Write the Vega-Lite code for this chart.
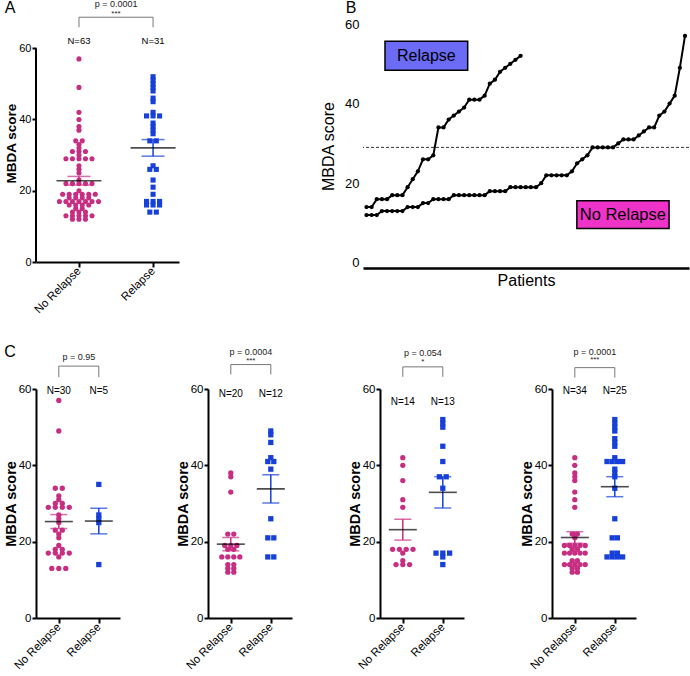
{
"$schema": "https://vega.github.io/schema/vega-lite/v6.json",
"padding": {"left": 3, "top": 0, "right": 2, "bottom": 0},
"config": {"font": "Liberation Sans", "view": {"stroke": null}, "axis": {"grid": false, "labelColor": "black", "titleColor": "black", "domainColor": "black", "tickColor": "black"}},
"datasets": {
"tests": [
{"panel": "A", "p": "p = 0.0001", "stars": "***"},
{"panel": "C1", "p": "p = 0.95", "stars": ""},
{"panel": "C2", "p": "p = 0.0004", "stars": "***"},
{"panel": "C3", "p": "p = 0.054", "stars": "*"},
{"panel": "C4", "p": "p = 0.0001", "stars": "***"}
],
"scores": [
{"panel":"A","group":"No Relapse","score":57},{"panel":"A","group":"No Relapse","score":49},{"panel":"A","group":"No Relapse","score":42},{"panel":"A","group":"No Relapse","score":40},{"panel":"A","group":"No Relapse","score":38},{"panel":"A","group":"No Relapse","score":37},{"panel":"A","group":"No Relapse","score":34},{"panel":"A","group":"No Relapse","score":34},{"panel":"A","group":"No Relapse","score":33},{"panel":"A","group":"No Relapse","score":32},{"panel":"A","group":"No Relapse","score":31},{"panel":"A","group":"No Relapse","score":31},{"panel":"A","group":"No Relapse","score":31},{"panel":"A","group":"No Relapse","score":30},{"panel":"A","group":"No Relapse","score":29},{"panel":"A","group":"No Relapse","score":29},{"panel":"A","group":"No Relapse","score":29},{"panel":"A","group":"No Relapse","score":29},{"panel":"A","group":"No Relapse","score":29},{"panel":"A","group":"No Relapse","score":27},{"panel":"A","group":"No Relapse","score":26},{"panel":"A","group":"No Relapse","score":25},{"panel":"A","group":"No Relapse","score":23},{"panel":"A","group":"No Relapse","score":22},{"panel":"A","group":"No Relapse","score":22},{"panel":"A","group":"No Relapse","score":22},{"panel":"A","group":"No Relapse","score":22},{"panel":"A","group":"No Relapse","score":22},{"panel":"A","group":"No Relapse","score":20},{"panel":"A","group":"No Relapse","score":19},{"panel":"A","group":"No Relapse","score":19},{"panel":"A","group":"No Relapse","score":19},{"panel":"A","group":"No Relapse","score":19},{"panel":"A","group":"No Relapse","score":19},{"panel":"A","group":"No Relapse","score":19},{"panel":"A","group":"No Relapse","score":18},{"panel":"A","group":"No Relapse","score":18},{"panel":"A","group":"No Relapse","score":18},{"panel":"A","group":"No Relapse","score":18},{"panel":"A","group":"No Relapse","score":17},{"panel":"A","group":"No Relapse","score":17},{"panel":"A","group":"No Relapse","score":17},{"panel":"A","group":"No Relapse","score":17},{"panel":"A","group":"No Relapse","score":17},{"panel":"A","group":"No Relapse","score":17},{"panel":"A","group":"No Relapse","score":17},{"panel":"A","group":"No Relapse","score":16},{"panel":"A","group":"No Relapse","score":16},{"panel":"A","group":"No Relapse","score":16},{"panel":"A","group":"No Relapse","score":16},{"panel":"A","group":"No Relapse","score":15},{"panel":"A","group":"No Relapse","score":15},{"panel":"A","group":"No Relapse","score":14},{"panel":"A","group":"No Relapse","score":14},{"panel":"A","group":"No Relapse","score":14},{"panel":"A","group":"No Relapse","score":13},{"panel":"A","group":"No Relapse","score":13},{"panel":"A","group":"No Relapse","score":13},{"panel":"A","group":"No Relapse","score":13},{"panel":"A","group":"No Relapse","score":13},{"panel":"A","group":"No Relapse","score":12},{"panel":"A","group":"No Relapse","score":12},{"panel":"A","group":"No Relapse","score":12},
{"panel":"A","group":"Relapse","score":52},{"panel":"A","group":"Relapse","score":51},{"panel":"A","group":"Relapse","score":50},{"panel":"A","group":"Relapse","score":49},{"panel":"A","group":"Relapse","score":48},{"panel":"A","group":"Relapse","score":46},{"panel":"A","group":"Relapse","score":45},{"panel":"A","group":"Relapse","score":42},{"panel":"A","group":"Relapse","score":41},{"panel":"A","group":"Relapse","score":41},{"panel":"A","group":"Relapse","score":41},{"panel":"A","group":"Relapse","score":39},{"panel":"A","group":"Relapse","score":38},{"panel":"A","group":"Relapse","score":37},{"panel":"A","group":"Relapse","score":36},{"panel":"A","group":"Relapse","score":34},{"panel":"A","group":"Relapse","score":34},{"panel":"A","group":"Relapse","score":27},{"panel":"A","group":"Relapse","score":26},{"panel":"A","group":"Relapse","score":26},{"panel":"A","group":"Relapse","score":23},{"panel":"A","group":"Relapse","score":21},{"panel":"A","group":"Relapse","score":19},{"panel":"A","group":"Relapse","score":17},{"panel":"A","group":"Relapse","score":17},{"panel":"A","group":"Relapse","score":17},{"panel":"A","group":"Relapse","score":16},{"panel":"A","group":"Relapse","score":16},{"panel":"A","group":"Relapse","score":16},{"panel":"A","group":"Relapse","score":14},{"panel":"A","group":"Relapse","score":14},
{"panel":"C1","group":"No Relapse","score":57},{"panel":"C1","group":"No Relapse","score":49},{"panel":"C1","group":"No Relapse","score":34},{"panel":"C1","group":"No Relapse","score":34},{"panel":"C1","group":"No Relapse","score":32},{"panel":"C1","group":"No Relapse","score":31},{"panel":"C1","group":"No Relapse","score":30},{"panel":"C1","group":"No Relapse","score":30},{"panel":"C1","group":"No Relapse","score":29},{"panel":"C1","group":"No Relapse","score":29},{"panel":"C1","group":"No Relapse","score":29},{"panel":"C1","group":"No Relapse","score":29},{"panel":"C1","group":"No Relapse","score":27},{"panel":"C1","group":"No Relapse","score":26},{"panel":"C1","group":"No Relapse","score":25},{"panel":"C1","group":"No Relapse","score":23},{"panel":"C1","group":"No Relapse","score":23},{"panel":"C1","group":"No Relapse","score":22},{"panel":"C1","group":"No Relapse","score":21},{"panel":"C1","group":"No Relapse","score":19},{"panel":"C1","group":"No Relapse","score":18},{"panel":"C1","group":"No Relapse","score":18},{"panel":"C1","group":"No Relapse","score":17},{"panel":"C1","group":"No Relapse","score":17},{"panel":"C1","group":"No Relapse","score":17},{"panel":"C1","group":"No Relapse","score":17},{"panel":"C1","group":"No Relapse","score":16},{"panel":"C1","group":"No Relapse","score":13},{"panel":"C1","group":"No Relapse","score":13},{"panel":"C1","group":"No Relapse","score":13},
{"panel":"C1","group":"Relapse","score":35},{"panel":"C1","group":"Relapse","score":27},{"panel":"C1","group":"Relapse","score":26},{"panel":"C1","group":"Relapse","score":25},{"panel":"C1","group":"Relapse","score":14},
{"panel":"C2","group":"No Relapse","score":38},{"panel":"C2","group":"No Relapse","score":37},{"panel":"C2","group":"No Relapse","score":33},{"panel":"C2","group":"No Relapse","score":22},{"panel":"C2","group":"No Relapse","score":22},{"panel":"C2","group":"No Relapse","score":19},{"panel":"C2","group":"No Relapse","score":19},{"panel":"C2","group":"No Relapse","score":19},{"panel":"C2","group":"No Relapse","score":18},{"panel":"C2","group":"No Relapse","score":18},{"panel":"C2","group":"No Relapse","score":16},{"panel":"C2","group":"No Relapse","score":16},{"panel":"C2","group":"No Relapse","score":16},{"panel":"C2","group":"No Relapse","score":16},{"panel":"C2","group":"No Relapse","score":14},{"panel":"C2","group":"No Relapse","score":14},{"panel":"C2","group":"No Relapse","score":13},{"panel":"C2","group":"No Relapse","score":13},{"panel":"C2","group":"No Relapse","score":12},{"panel":"C2","group":"No Relapse","score":12},
{"panel":"C2","group":"Relapse","score":49},{"panel":"C2","group":"Relapse","score":48},{"panel":"C2","group":"Relapse","score":46},{"panel":"C2","group":"Relapse","score":42},{"panel":"C2","group":"Relapse","score":41},{"panel":"C2","group":"Relapse","score":41},{"panel":"C2","group":"Relapse","score":39},{"panel":"C2","group":"Relapse","score":26},{"panel":"C2","group":"Relapse","score":21},{"panel":"C2","group":"Relapse","score":21},{"panel":"C2","group":"Relapse","score":16},{"panel":"C2","group":"Relapse","score":16},
{"panel":"C3","group":"No Relapse","score":42},{"panel":"C3","group":"No Relapse","score":40},{"panel":"C3","group":"No Relapse","score":36},{"panel":"C3","group":"No Relapse","score":31},{"panel":"C3","group":"No Relapse","score":29},{"panel":"C3","group":"No Relapse","score":18},{"panel":"C3","group":"No Relapse","score":18},{"panel":"C3","group":"No Relapse","score":18},{"panel":"C3","group":"No Relapse","score":18},{"panel":"C3","group":"No Relapse","score":17},{"panel":"C3","group":"No Relapse","score":15},{"panel":"C3","group":"No Relapse","score":14},{"panel":"C3","group":"No Relapse","score":14},{"panel":"C3","group":"No Relapse","score":14},
{"panel":"C3","group":"Relapse","score":52},{"panel":"C3","group":"Relapse","score":51},{"panel":"C3","group":"Relapse","score":50},{"panel":"C3","group":"Relapse","score":45},{"panel":"C3","group":"Relapse","score":41},{"panel":"C3","group":"Relapse","score":37},{"panel":"C3","group":"Relapse","score":37},{"panel":"C3","group":"Relapse","score":34},{"panel":"C3","group":"Relapse","score":17},{"panel":"C3","group":"Relapse","score":17},{"panel":"C3","group":"Relapse","score":17},{"panel":"C3","group":"Relapse","score":16},{"panel":"C3","group":"Relapse","score":14},
{"panel":"C4","group":"No Relapse","score":42},{"panel":"C4","group":"No Relapse","score":40},{"panel":"C4","group":"No Relapse","score":38},{"panel":"C4","group":"No Relapse","score":37},{"panel":"C4","group":"No Relapse","score":36},{"panel":"C4","group":"No Relapse","score":33},{"panel":"C4","group":"No Relapse","score":31},{"panel":"C4","group":"No Relapse","score":29},{"panel":"C4","group":"No Relapse","score":22},{"panel":"C4","group":"No Relapse","score":22},{"panel":"C4","group":"No Relapse","score":21},{"panel":"C4","group":"No Relapse","score":19},{"panel":"C4","group":"No Relapse","score":19},{"panel":"C4","group":"No Relapse","score":19},{"panel":"C4","group":"No Relapse","score":19},{"panel":"C4","group":"No Relapse","score":19},{"panel":"C4","group":"No Relapse","score":18},{"panel":"C4","group":"No Relapse","score":18},{"panel":"C4","group":"No Relapse","score":17},{"panel":"C4","group":"No Relapse","score":17},{"panel":"C4","group":"No Relapse","score":17},{"panel":"C4","group":"No Relapse","score":17},{"panel":"C4","group":"No Relapse","score":17},{"panel":"C4","group":"No Relapse","score":15},{"panel":"C4","group":"No Relapse","score":15},{"panel":"C4","group":"No Relapse","score":14},{"panel":"C4","group":"No Relapse","score":14},{"panel":"C4","group":"No Relapse","score":14},{"panel":"C4","group":"No Relapse","score":14},{"panel":"C4","group":"No Relapse","score":14},{"panel":"C4","group":"No Relapse","score":13},{"panel":"C4","group":"No Relapse","score":13},{"panel":"C4","group":"No Relapse","score":12},{"panel":"C4","group":"No Relapse","score":12},
{"panel":"C4","group":"Relapse","score":52},{"panel":"C4","group":"Relapse","score":51},{"panel":"C4","group":"Relapse","score":50},{"panel":"C4","group":"Relapse","score":49},{"panel":"C4","group":"Relapse","score":47},{"panel":"C4","group":"Relapse","score":46},{"panel":"C4","group":"Relapse","score":45},{"panel":"C4","group":"Relapse","score":42},{"panel":"C4","group":"Relapse","score":41},{"panel":"C4","group":"Relapse","score":41},{"panel":"C4","group":"Relapse","score":41},{"panel":"C4","group":"Relapse","score":41},{"panel":"C4","group":"Relapse","score":39},{"panel":"C4","group":"Relapse","score":38},{"panel":"C4","group":"Relapse","score":37},{"panel":"C4","group":"Relapse","score":34},{"panel":"C4","group":"Relapse","score":26},{"panel":"C4","group":"Relapse","score":21},{"panel":"C4","group":"Relapse","score":21},{"panel":"C4","group":"Relapse","score":17},{"panel":"C4","group":"Relapse","score":17},{"panel":"C4","group":"Relapse","score":16},{"panel":"C4","group":"Relapse","score":16},{"panel":"C4","group":"Relapse","score":16},{"panel":"C4","group":"Relapse","score":16}
]
},
"spacing": 27,
"vconcat": [
{"hconcat": [
{
"width": 143, "height": 238,
"data": {"name": "scores"},
"transform": [
{"filter": "datum.panel === 'A'"},
{"calculate": "datum.group === 'Relapse' ? 1 : 0", "as": "gi"},
{"window": [{"op": "row_number", "as": "k"}], "groupby": ["group", "score"]},
{"joinaggregate": [{"op": "count", "as": "n"}], "groupby": ["group", "score"]},
{"calculate": "datum.gi + 0.088 * (datum.k - (datum.n + 1) / 2)", "as": "xpos"}
],
"layer": [
{"mark": {"type": "point", "filled": true, "size": 26, "opacity": 1},
"encoding": {
"x": {"field": "xpos", "type": "quantitative", "scale": {"domain": [-0.58, 1.35]}, "axis": {"values": [0, 1], "labelExpr": "datum.value === 0 ? 'No Relapse' : 'Relapse'", "labelAngle": -45, "labelAlign": "right", "labelBaseline": "middle", "labelFontSize": 11.5, "title": null, "domainWidth": 2, "tickWidth": 2, "tickSize": 5, "labelPadding": 2}},
"y": {"field": "score", "type": "quantitative", "scale": {"domain": [0, 66.8]}, "axis": {"values": [0, 20, 40, 60], "title": "MBDA score", "titleFontSize": 13.5, "titleFontWeight": "bold", "labelFontSize": 11, "domain": false, "tickWidth": 2, "tickSize": 4, "labelPadding": 1, "titlePadding": 0}},
"color": {"field": "group", "type": "nominal", "scale": {"domain": ["No Relapse", "Relapse"], "range": ["#c72e82", "#1640d8"]}, "legend": null},
"shape": {"field": "group", "type": "nominal", "scale": {"domain": ["No Relapse", "Relapse"], "range": ["circle", "square"]}, "legend": null}
}},
{"data": {"values": [{}]}, "mark": {"type": "rule", "color": "black", "strokeWidth": 2},
"encoding": {"x": {"datum": -0.58, "scale": {"domain": [-0.58, 1.35]}}, "y": {"datum": 0, "scale": {"domain": [0, 66.8]}}, "y2": {"datum": 60}}},
{"data": {"values": [{}]}, "mark": {"type": "text", "text": "A", "fontSize": 16, "color": "black"},
"encoding": {"x": {"datum": -0.93, "scale": {"domain": [-0.58, 1.35]}}, "y": {"datum": 71.2, "scale": {"domain": [0, 66.8]}}}},
{"transform": [
{"aggregate": [{"op": "mean", "field": "score", "as": "m"}, {"op": "stderr", "field": "score", "as": "se"}], "groupby": ["group", "gi"]},
{"calculate": "datum.m - datum.se", "as": "lo"},
{"calculate": "datum.m + datum.se", "as": "hi"}
],
"encoding": {
"x": {"field": "gi", "type": "quantitative", "scale": {"domain": [-0.58, 1.35]}},
"color": {"field": "group", "type": "nominal", "scale": {"domain": ["No Relapse", "Relapse"], "range": ["#c72e82", "#1640d8"]}, "legend": null}
},
"layer": [
{"mark": {"type": "rule", "strokeWidth": 1.5}, "encoding": {"y": {"field": "lo", "type": "quantitative", "scale": {"domain": [0, 66.8]}}, "y2": {"field": "hi"}}},
{"mark": {"type": "tick", "orient": "horizontal", "size": 23, "thickness": 1.5}, "encoding": {"y": {"field": "lo", "type": "quantitative", "scale": {"domain": [0, 66.8]}}}},
{"mark": {"type": "tick", "orient": "horizontal", "size": 23, "thickness": 1.5}, "encoding": {"y": {"field": "hi", "type": "quantitative", "scale": {"domain": [0, 66.8]}}}},
{"mark": {"type": "tick", "orient": "horizontal", "size": 45, "thickness": 1.6}, "encoding": {"y": {"field": "m", "type": "quantitative", "scale": {"domain": [0, 66.8]}}, "color": {"value": "black"}}}
]},
{"transform": [
{"aggregate": [{"op": "count", "as": "n"}], "groupby": ["group", "gi"]},
{"calculate": "'N=' + datum.n", "as": "lab"}
],
"mark": {"type": "text", "fontSize": 9.5, "color": "black"},
"encoding": {
"x": {"field": "gi", "type": "quantitative", "scale": {"domain": [-0.58, 1.35]}},
"y": {"datum": 62, "scale": {"domain": [0, 66.8]}},
"text": {"field": "lab"}
}},
{"data": {"name": "tests"},
"transform": [{"filter": "datum.panel === 'A'"}],
"layer": [
{"mark": {"type": "rule", "color": "#777", "strokeWidth": 1}, "encoding": {"x": {"datum": 0, "scale": {"domain": [-0.58, 1.35]}}, "x2": {"datum": 1}, "y": {"datum": 68.7, "scale": {"domain": [0, 66.8]}}}},
{"mark": {"type": "rule", "color": "#777", "strokeWidth": 1}, "encoding": {"x": {"datum": 0, "scale": {"domain": [-0.58, 1.35]}}, "y": {"datum": 65.9, "scale": {"domain": [0, 66.8]}}, "y2": {"datum": 68.7}}},
{"mark": {"type": "rule", "color": "#777", "strokeWidth": 1}, "encoding": {"x": {"datum": 1, "scale": {"domain": [-0.58, 1.35]}}, "y": {"datum": 65.9, "scale": {"domain": [0, 66.8]}}, "y2": {"datum": 68.7}}},
{"mark": {"type": "text", "fontSize": 9, "color": "#222"}, "encoding": {"x": {"datum": 0.5, "scale": {"domain": [-0.58, 1.35]}}, "y": {"datum": 72.3, "scale": {"domain": [0, 66.8]}}, "text": {"field": "p"}}},
{"mark": {"type": "text", "fontSize": 8, "color": "#222"}, "encoding": {"x": {"datum": 0.5, "scale": {"domain": [-0.58, 1.35]}}, "y": {"datum": 69.6, "scale": {"domain": [0, 66.8]}}, "text": {"field": "stars"}}}
]}
]
},
{
"width": 326, "height": 244,
"data": {"name": "scores"},
"transform": [
{"filter": "datum.panel === 'A'"},
{"window": [{"op": "row_number", "as": "rank"}], "sort": [{"field": "score", "order": "ascending"}], "groupby": ["group"]}
],
"layer": [
{"mark": {"type": "rule", "strokeDash": [3, 2], "strokeWidth": 0.8, "color": "black"}, "data": {"values": [{}]}, "encoding": {"y": {"datum": 29, "scale": {"domain": [-1.3, 60]}}}},
{"mark": {"type": "line", "color": "black", "strokeWidth": 2, "point": {"filled": true, "size": 18, "color": "black"}},
"encoding": {
"x": {"field": "rank", "type": "quantitative", "scale": {"domain": [0.32, 63.78]}, "axis": {"title": "Patients", "titleFontSize": 16, "titleFontWeight": "normal", "labels": false, "ticks": false, "domainWidth": 2.5, "titlePadding": 4}},
"y": {"field": "score", "type": "quantitative", "scale": {"domain": [-1.3, 60]}, "axis": {"values": [0, 20, 40, 60], "title": "MBDA score", "titleFontSize": 16, "titleFontWeight": "normal", "labelFontSize": 13, "domain": false, "ticks": false, "labelPadding": 4, "titlePadding": 8}},
"detail": {"field": "group", "type": "nominal"}
}},
{"data": {"values": [{}]}, "mark": {"type": "text", "text": "B", "fontSize": 16, "color": "black"},
"encoding": {"x": {"datum": -2.0, "scale": {"domain": [0.32, 63.78]}}, "y": {"datum": 64, "scale": {"domain": [-1.3, 60]}}}},
{"data": {"values": [{}]}, "mark": {"type": "rect", "fill": "#6b6bf5", "stroke": "black", "strokeWidth": 1.5},
"encoding": {"x": {"datum": 4.6, "scale": {"domain": [0.32, 63.78]}}, "x2": {"datum": 20.7}, "y": {"datum": 48.35, "scale": {"domain": [-1.3, 60]}}, "y2": {"datum": 55.65}}},
{"data": {"values": [{}]}, "mark": {"type": "text", "text": "Relapse", "fontSize": 16, "color": "black"},
"encoding": {"x": {"datum": 12.65, "scale": {"domain": [0.32, 63.78]}}, "y": {"datum": 52, "scale": {"domain": [-1.3, 60]}}}},
{"data": {"values": [{}]}, "mark": {"type": "rect", "fill": "#f033c8", "stroke": "black", "strokeWidth": 1.5},
"encoding": {"x": {"datum": 41.95, "scale": {"domain": [0.32, 63.78]}}, "x2": {"datum": 59.9}, "y": {"datum": 8.6, "scale": {"domain": [-1.3, 60]}}, "y2": {"datum": 15.6}}},
{"data": {"values": [{}]}, "mark": {"type": "text", "text": "No Relapse", "fontSize": 16.5, "color": "black"},
"encoding": {"x": {"datum": 50.9, "scale": {"domain": [0.32, 63.78]}}, "y": {"datum": 12.1, "scale": {"domain": [-1.3, 60]}}}}
]
}
], "spacing": 184, "bounds": "flush"},
{"hconcat": [
{
"width": 84, "height": 229,
"data": {"name": "scores"},
"transform": [
{"filter": "datum.panel === 'C1'"},
{"calculate": "datum.group === 'Relapse' ? 1 : 0", "as": "gi"},
{"window": [{"op": "row_number", "as": "k"}], "groupby": ["group", "score"]},
{"joinaggregate": [{"op": "count", "as": "n"}], "groupby": ["group", "score"]},
{"calculate": "datum.gi + 0.175 * (datum.k - (datum.n + 1) / 2)", "as": "xpos"}
],
"layer": [
{"mark": {"type": "point", "filled": true, "size": 28, "opacity": 1},
"encoding": {
"x": {"field": "xpos", "type": "quantitative", "scale": {"domain": [-0.57, 1.53]}, "axis": {"values": [0, 1], "labelExpr": "datum.value === 0 ? 'No Relapse' : 'Relapse'", "labelAngle": -45, "labelAlign": "right", "labelBaseline": "middle", "labelFontSize": 11.5, "title": null, "domainWidth": 2, "tickWidth": 2, "tickSize": 5, "labelPadding": 2}},
"y": {"field": "score", "type": "quantitative", "scale": {"domain": [0, 60]}, "axis": {"values": [0, 20, 40, 60], "title": "MBDA score", "titleFontSize": 14.5, "titleFontWeight": "bold", "labelFontSize": 11.5, "domainWidth": 2, "tickWidth": 2, "tickSize": 4, "labelPadding": 1, "titlePadding": 0}},
"color": {"field": "group", "type": "nominal", "scale": {"domain": ["No Relapse", "Relapse"], "range": ["#c72e82", "#1640d8"]}, "legend": null},
"shape": {"field": "group", "type": "nominal", "scale": {"domain": ["No Relapse", "Relapse"], "range": ["circle", "square"]}, "legend": null}
}},
{"data": {"values": [{}]}, "mark": {"type": "text", "text": "C", "fontSize": 16, "color": "black"},
"encoding": {"x": {"datum": -1.22, "scale": {"domain": [-0.57, 1.53]}}, "y": {"datum": 69.7, "scale": {"domain": [0, 60]}}}},
{"transform": [
{"aggregate": [{"op": "mean", "field": "score", "as": "m"}, {"op": "stderr", "field": "score", "as": "se"}], "groupby": ["group", "gi"]},
{"calculate": "datum.m - datum.se", "as": "lo"},
{"calculate": "datum.m + datum.se", "as": "hi"}
],
"encoding": {
"x": {"field": "gi", "type": "quantitative", "scale": {"domain": [-0.57, 1.53]}},
"color": {"field": "group", "type": "nominal", "scale": {"domain": ["No Relapse", "Relapse"], "range": ["#c72e82", "#1640d8"]}, "legend": null}
},
"layer": [
{"mark": {"type": "rule", "strokeWidth": 1.5}, "encoding": {"y": {"field": "lo", "type": "quantitative", "scale": {"domain": [0, 60]}}, "y2": {"field": "hi"}}},
{"mark": {"type": "tick", "orient": "horizontal", "size": 17, "thickness": 1.5}, "encoding": {"y": {"field": "lo", "type": "quantitative", "scale": {"domain": [0, 60]}}}},
{"mark": {"type": "tick", "orient": "horizontal", "size": 17, "thickness": 1.5}, "encoding": {"y": {"field": "hi", "type": "quantitative", "scale": {"domain": [0, 60]}}}},
{"mark": {"type": "tick", "orient": "horizontal", "size": 28, "thickness": 1.6}, "encoding": {"y": {"field": "m", "type": "quantitative", "scale": {"domain": [0, 60]}}, "color": {"value": "black"}}}
]},
{"transform": [
{"aggregate": [{"op": "count", "as": "n"}], "groupby": ["group", "gi"]},
{"calculate": "'N=' + datum.n", "as": "lab"}
],
"mark": {"type": "text", "fontSize": 10, "color": "black"},
"encoding": {
"x": {"field": "gi", "type": "quantitative", "scale": {"domain": [-0.57, 1.53]}},
"y": {"datum": 59.5, "scale": {"domain": [0, 60]}},
"text": {"field": "lab"}
}},
{"data": {"name": "tests"},
"transform": [{"filter": "datum.panel === 'C1'"}],
"layer": [
{"mark": {"type": "rule", "color": "#777", "strokeWidth": 1}, "encoding": {"x": {"datum": 0, "scale": {"domain": [-0.57, 1.53]}}, "x2": {"datum": 1}, "y": {"datum": 66, "scale": {"domain": [0, 60]}}}},
{"mark": {"type": "rule", "color": "#777", "strokeWidth": 1}, "encoding": {"x": {"datum": 0, "scale": {"domain": [-0.57, 1.53]}}, "y": {"datum": 63.1, "scale": {"domain": [0, 60]}}, "y2": {"datum": 66}}},
{"mark": {"type": "rule", "color": "#777", "strokeWidth": 1}, "encoding": {"x": {"datum": 1, "scale": {"domain": [-0.57, 1.53]}}, "y": {"datum": 63.1, "scale": {"domain": [0, 60]}}, "y2": {"datum": 66}}},
{"mark": {"type": "text", "fontSize": 9, "color": "#222"}, "encoding": {"x": {"datum": 0.5, "scale": {"domain": [-0.57, 1.53]}}, "y": {"datum": 68.5, "scale": {"domain": [0, 60]}}, "text": {"field": "p"}}},
{"mark": {"type": "text", "fontSize": 8, "color": "#222"}, "encoding": {"x": {"datum": 0.5, "scale": {"domain": [-0.57, 1.53]}}, "y": {"datum": 67, "scale": {"domain": [0, 60]}}, "text": {"field": "stars"}}}
]}
]
},
{
"width": 84, "height": 229,
"data": {"name": "scores"},
"transform": [
{"filter": "datum.panel === 'C2'"},
{"calculate": "datum.group === 'Relapse' ? 1 : 0", "as": "gi"},
{"window": [{"op": "row_number", "as": "k"}], "groupby": ["group", "score"]},
{"joinaggregate": [{"op": "count", "as": "n"}], "groupby": ["group", "score"]},
{"calculate": "datum.gi + 0.15 * (datum.k - (datum.n + 1) / 2)", "as": "xpos"}
],
"layer": [
{"mark": {"type": "point", "filled": true, "size": 28, "opacity": 1},
"encoding": {
"x": {"field": "xpos", "type": "quantitative", "scale": {"domain": [-0.57, 1.53]}, "axis": {"values": [0, 1], "labelExpr": "datum.value === 0 ? 'No Relapse' : 'Relapse'", "labelAngle": -45, "labelAlign": "right", "labelBaseline": "middle", "labelFontSize": 11.5, "title": null, "domainWidth": 2, "tickWidth": 2, "tickSize": 5, "labelPadding": 2}},
"y": {"field": "score", "type": "quantitative", "scale": {"domain": [0, 60]}, "axis": {"values": [0, 20, 40, 60], "title": "MBDA score", "titleFontSize": 14.5, "titleFontWeight": "bold", "labelFontSize": 11.5, "domainWidth": 2, "tickWidth": 2, "tickSize": 4, "labelPadding": 1, "titlePadding": 0}},
"color": {"field": "group", "type": "nominal", "scale": {"domain": ["No Relapse", "Relapse"], "range": ["#c72e82", "#1640d8"]}, "legend": null},
"shape": {"field": "group", "type": "nominal", "scale": {"domain": ["No Relapse", "Relapse"], "range": ["circle", "square"]}, "legend": null}
}},
{"transform": [
{"aggregate": [{"op": "mean", "field": "score", "as": "m"}, {"op": "stderr", "field": "score", "as": "se"}], "groupby": ["group", "gi"]},
{"calculate": "datum.m - datum.se", "as": "lo"},
{"calculate": "datum.m + datum.se", "as": "hi"}
],
"encoding": {
"x": {"field": "gi", "type": "quantitative", "scale": {"domain": [-0.57, 1.53]}},
"color": {"field": "group", "type": "nominal", "scale": {"domain": ["No Relapse", "Relapse"], "range": ["#c72e82", "#1640d8"]}, "legend": null}
},
"layer": [
{"mark": {"type": "rule", "strokeWidth": 1.5}, "encoding": {"y": {"field": "lo", "type": "quantitative", "scale": {"domain": [0, 60]}}, "y2": {"field": "hi"}}},
{"mark": {"type": "tick", "orient": "horizontal", "size": 17, "thickness": 1.5}, "encoding": {"y": {"field": "lo", "type": "quantitative", "scale": {"domain": [0, 60]}}}},
{"mark": {"type": "tick", "orient": "horizontal", "size": 17, "thickness": 1.5}, "encoding": {"y": {"field": "hi", "type": "quantitative", "scale": {"domain": [0, 60]}}}},
{"mark": {"type": "tick", "orient": "horizontal", "size": 28, "thickness": 1.6}, "encoding": {"y": {"field": "m", "type": "quantitative", "scale": {"domain": [0, 60]}}, "color": {"value": "black"}}}
]},
{"transform": [
{"aggregate": [{"op": "count", "as": "n"}], "groupby": ["group", "gi"]},
{"calculate": "'N=' + datum.n", "as": "lab"}
],
"mark": {"type": "text", "fontSize": 10, "color": "black"},
"encoding": {
"x": {"field": "gi", "type": "quantitative", "scale": {"domain": [-0.57, 1.53]}},
"y": {"datum": 58.7, "scale": {"domain": [0, 60]}},
"text": {"field": "lab"}
}},
{"data": {"name": "tests"},
"transform": [{"filter": "datum.panel === 'C2'"}],
"layer": [
{"mark": {"type": "rule", "color": "#777", "strokeWidth": 1}, "encoding": {"x": {"datum": 0, "scale": {"domain": [-0.57, 1.53]}}, "x2": {"datum": 1}, "y": {"datum": 66.4, "scale": {"domain": [0, 60]}}}},
{"mark": {"type": "rule", "color": "#777", "strokeWidth": 1}, "encoding": {"x": {"datum": 0, "scale": {"domain": [-0.57, 1.53]}}, "y": {"datum": 63.8, "scale": {"domain": [0, 60]}}, "y2": {"datum": 66.4}}},
{"mark": {"type": "rule", "color": "#777", "strokeWidth": 1}, "encoding": {"x": {"datum": 1, "scale": {"domain": [-0.57, 1.53]}}, "y": {"datum": 63.8, "scale": {"domain": [0, 60]}}, "y2": {"datum": 66.4}}},
{"mark": {"type": "text", "fontSize": 9, "color": "#222"}, "encoding": {"x": {"datum": 0.5, "scale": {"domain": [-0.57, 1.53]}}, "y": {"datum": 69.6, "scale": {"domain": [0, 60]}}, "text": {"field": "p"}}},
{"mark": {"type": "text", "fontSize": 8, "color": "#222"}, "encoding": {"x": {"datum": 0.5, "scale": {"domain": [-0.57, 1.53]}}, "y": {"datum": 67.3, "scale": {"domain": [0, 60]}}, "text": {"field": "stars"}}}
]}
]
},
{
"width": 84, "height": 229,
"data": {"name": "scores"},
"transform": [
{"filter": "datum.panel === 'C3'"},
{"calculate": "datum.group === 'Relapse' ? 1 : 0", "as": "gi"},
{"window": [{"op": "row_number", "as": "k"}], "groupby": ["group", "score"]},
{"joinaggregate": [{"op": "count", "as": "n"}], "groupby": ["group", "score"]},
{"calculate": "datum.gi + 0.17 * (datum.k - (datum.n + 1) / 2)", "as": "xpos"}
],
"layer": [
{"mark": {"type": "point", "filled": true, "size": 28, "opacity": 1},
"encoding": {
"x": {"field": "xpos", "type": "quantitative", "scale": {"domain": [-0.57, 1.53]}, "axis": {"values": [0, 1], "labelExpr": "datum.value === 0 ? 'No Relapse' : 'Relapse'", "labelAngle": -45, "labelAlign": "right", "labelBaseline": "middle", "labelFontSize": 11.5, "title": null, "domainWidth": 2, "tickWidth": 2, "tickSize": 5, "labelPadding": 2}},
"y": {"field": "score", "type": "quantitative", "scale": {"domain": [0, 60]}, "axis": {"values": [0, 20, 40, 60], "title": "MBDA score", "titleFontSize": 14.5, "titleFontWeight": "bold", "labelFontSize": 11.5, "domainWidth": 2, "tickWidth": 2, "tickSize": 4, "labelPadding": 1, "titlePadding": 0}},
"color": {"field": "group", "type": "nominal", "scale": {"domain": ["No Relapse", "Relapse"], "range": ["#c72e82", "#1640d8"]}, "legend": null},
"shape": {"field": "group", "type": "nominal", "scale": {"domain": ["No Relapse", "Relapse"], "range": ["circle", "square"]}, "legend": null}
}},
{"transform": [
{"aggregate": [{"op": "mean", "field": "score", "as": "m"}, {"op": "stderr", "field": "score", "as": "se"}], "groupby": ["group", "gi"]},
{"calculate": "datum.m - datum.se", "as": "lo"},
{"calculate": "datum.m + datum.se", "as": "hi"}
],
"encoding": {
"x": {"field": "gi", "type": "quantitative", "scale": {"domain": [-0.57, 1.53]}},
"color": {"field": "group", "type": "nominal", "scale": {"domain": ["No Relapse", "Relapse"], "range": ["#c72e82", "#1640d8"]}, "legend": null}
},
"layer": [
{"mark": {"type": "rule", "strokeWidth": 1.5}, "encoding": {"y": {"field": "lo", "type": "quantitative", "scale": {"domain": [0, 60]}}, "y2": {"field": "hi"}}},
{"mark": {"type": "tick", "orient": "horizontal", "size": 17, "thickness": 1.5}, "encoding": {"y": {"field": "lo", "type": "quantitative", "scale": {"domain": [0, 60]}}}},
{"mark": {"type": "tick", "orient": "horizontal", "size": 17, "thickness": 1.5}, "encoding": {"y": {"field": "hi", "type": "quantitative", "scale": {"domain": [0, 60]}}}},
{"mark": {"type": "tick", "orient": "horizontal", "size": 28, "thickness": 1.6}, "encoding": {"y": {"field": "m", "type": "quantitative", "scale": {"domain": [0, 60]}}, "color": {"value": "black"}}}
]},
{"transform": [
{"aggregate": [{"op": "count", "as": "n"}], "groupby": ["group", "gi"]},
{"calculate": "'N=' + datum.n", "as": "lab"}
],
"mark": {"type": "text", "fontSize": 10, "color": "black"},
"encoding": {
"x": {"field": "gi", "type": "quantitative", "scale": {"domain": [-0.57, 1.53]}},
"y": {"datum": 56.6, "scale": {"domain": [0, 60]}},
"text": {"field": "lab"}
}},
{"data": {"name": "tests"},
"transform": [{"filter": "datum.panel === 'C3'"}],
"layer": [
{"mark": {"type": "rule", "color": "#777", "strokeWidth": 1}, "encoding": {"x": {"datum": 0, "scale": {"domain": [-0.57, 1.53]}}, "x2": {"datum": 1}, "y": {"datum": 65.8, "scale": {"domain": [0, 60]}}}},
{"mark": {"type": "rule", "color": "#777", "strokeWidth": 1}, "encoding": {"x": {"datum": 0, "scale": {"domain": [-0.57, 1.53]}}, "y": {"datum": 63.2, "scale": {"domain": [0, 60]}}, "y2": {"datum": 65.8}}},
{"mark": {"type": "rule", "color": "#777", "strokeWidth": 1}, "encoding": {"x": {"datum": 1, "scale": {"domain": [-0.57, 1.53]}}, "y": {"datum": 63.2, "scale": {"domain": [0, 60]}}, "y2": {"datum": 65.8}}},
{"mark": {"type": "text", "fontSize": 9, "color": "#222"}, "encoding": {"x": {"datum": 0.5, "scale": {"domain": [-0.57, 1.53]}}, "y": {"datum": 69.5, "scale": {"domain": [0, 60]}}, "text": {"field": "p"}}},
{"mark": {"type": "text", "fontSize": 8, "color": "#222"}, "encoding": {"x": {"datum": 0.5, "scale": {"domain": [-0.57, 1.53]}}, "y": {"datum": 67, "scale": {"domain": [0, 60]}}, "text": {"field": "stars"}}}
]}
]
},
{
"width": 84, "height": 229,
"data": {"name": "scores"},
"transform": [
{"filter": "datum.panel === 'C4'"},
{"calculate": "datum.group === 'Relapse' ? 1 : 0", "as": "gi"},
{"window": [{"op": "row_number", "as": "k"}], "groupby": ["group", "score"]},
{"joinaggregate": [{"op": "count", "as": "n"}], "groupby": ["group", "score"]},
{"calculate": "datum.gi + 0.13 * (datum.k - (datum.n + 1) / 2)", "as": "xpos"}
],
"layer": [
{"mark": {"type": "point", "filled": true, "size": 28, "opacity": 1},
"encoding": {
"x": {"field": "xpos", "type": "quantitative", "scale": {"domain": [-0.57, 1.53]}, "axis": {"values": [0, 1], "labelExpr": "datum.value === 0 ? 'No Relapse' : 'Relapse'", "labelAngle": -45, "labelAlign": "right", "labelBaseline": "middle", "labelFontSize": 11.5, "title": null, "domainWidth": 2, "tickWidth": 2, "tickSize": 5, "labelPadding": 2}},
"y": {"field": "score", "type": "quantitative", "scale": {"domain": [0, 60]}, "axis": {"values": [0, 20, 40, 60], "title": "MBDA score", "titleFontSize": 14.5, "titleFontWeight": "bold", "labelFontSize": 11.5, "domainWidth": 2, "tickWidth": 2, "tickSize": 4, "labelPadding": 1, "titlePadding": 0}},
"color": {"field": "group", "type": "nominal", "scale": {"domain": ["No Relapse", "Relapse"], "range": ["#c72e82", "#1640d8"]}, "legend": null},
"shape": {"field": "group", "type": "nominal", "scale": {"domain": ["No Relapse", "Relapse"], "range": ["circle", "square"]}, "legend": null}
}},
{"transform": [
{"aggregate": [{"op": "mean", "field": "score", "as": "m"}, {"op": "stderr", "field": "score", "as": "se"}], "groupby": ["group", "gi"]},
{"calculate": "datum.m - datum.se", "as": "lo"},
{"calculate": "datum.m + datum.se", "as": "hi"}
],
"encoding": {
"x": {"field": "gi", "type": "quantitative", "scale": {"domain": [-0.57, 1.53]}},
"color": {"field": "group", "type": "nominal", "scale": {"domain": ["No Relapse", "Relapse"], "range": ["#c72e82", "#1640d8"]}, "legend": null}
},
"layer": [
{"mark": {"type": "rule", "strokeWidth": 1.5}, "encoding": {"y": {"field": "lo", "type": "quantitative", "scale": {"domain": [0, 60]}}, "y2": {"field": "hi"}}},
{"mark": {"type": "tick", "orient": "horizontal", "size": 17, "thickness": 1.5}, "encoding": {"y": {"field": "lo", "type": "quantitative", "scale": {"domain": [0, 60]}}}},
{"mark": {"type": "tick", "orient": "horizontal", "size": 17, "thickness": 1.5}, "encoding": {"y": {"field": "hi", "type": "quantitative", "scale": {"domain": [0, 60]}}}},
{"mark": {"type": "tick", "orient": "horizontal", "size": 28, "thickness": 1.6}, "encoding": {"y": {"field": "m", "type": "quantitative", "scale": {"domain": [0, 60]}}, "color": {"value": "black"}}}
]},
{"transform": [
{"aggregate": [{"op": "count", "as": "n"}], "groupby": ["group", "gi"]},
{"calculate": "'N=' + datum.n", "as": "lab"}
],
"mark": {"type": "text", "fontSize": 10, "color": "black"},
"encoding": {
"x": {"field": "gi", "type": "quantitative", "scale": {"domain": [-0.57, 1.53]}},
"y": {"datum": 59.5, "scale": {"domain": [0, 60]}},
"text": {"field": "lab"}
}},
{"data": {"name": "tests"},
"transform": [{"filter": "datum.panel === 'C4'"}],
"layer": [
{"mark": {"type": "rule", "color": "#777", "strokeWidth": 1}, "encoding": {"x": {"datum": 0, "scale": {"domain": [-0.57, 1.53]}}, "x2": {"datum": 1}, "y": {"datum": 65.6, "scale": {"domain": [0, 60]}}}},
{"mark": {"type": "rule", "color": "#777", "strokeWidth": 1}, "encoding": {"x": {"datum": 0, "scale": {"domain": [-0.57, 1.53]}}, "y": {"datum": 63, "scale": {"domain": [0, 60]}}, "y2": {"datum": 65.6}}},
{"mark": {"type": "rule", "color": "#777", "strokeWidth": 1}, "encoding": {"x": {"datum": 1, "scale": {"domain": [-0.57, 1.53]}}, "y": {"datum": 63, "scale": {"domain": [0, 60]}}, "y2": {"datum": 65.6}}},
{"mark": {"type": "text", "fontSize": 9, "color": "#222"}, "encoding": {"x": {"datum": 0.5, "scale": {"domain": [-0.57, 1.53]}}, "y": {"datum": 69.8, "scale": {"domain": [0, 60]}}, "text": {"field": "p"}}},
{"mark": {"type": "text", "fontSize": 8, "color": "#222"}, "encoding": {"x": {"datum": 0.5, "scale": {"domain": [-0.57, 1.53]}}, "y": {"datum": 67.5, "scale": {"domain": [0, 60]}}, "text": {"field": "stars"}}}
]}
]
}
], "spacing": 88, "bounds": "flush"}
]
}
